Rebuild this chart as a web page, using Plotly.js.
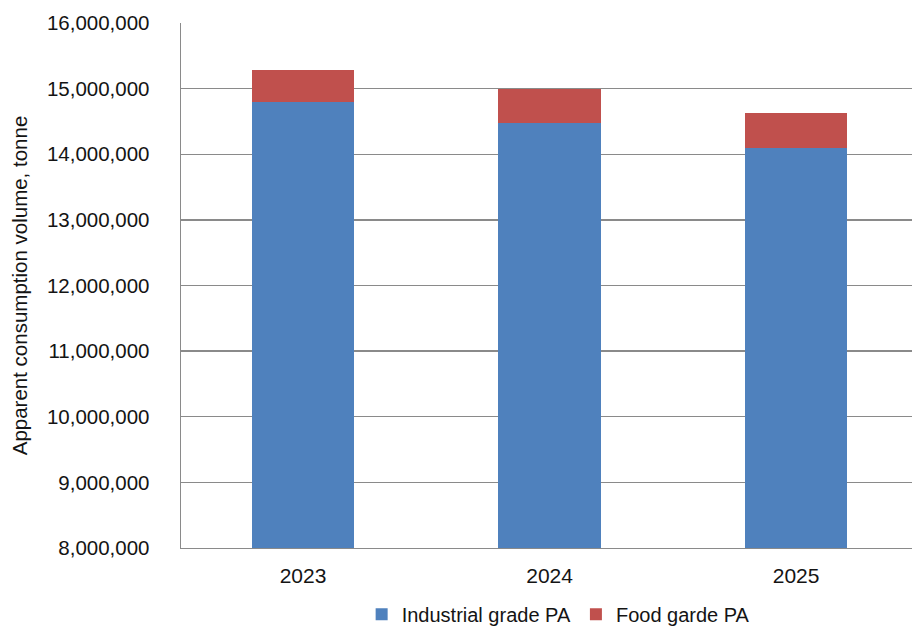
<!DOCTYPE html>
<html>
<head>
<meta charset="utf-8">
<script src="https://cdn.plot.ly/plotly-3.0.1.min.js"></script>
<style>
  html, body { margin: 0; padding: 0; background: #ffffff; }
  #chart { width: 912px; height: 628px; }
</style>
</head>
<body>
<div id="chart"></div>
<script>
// Apparent consumption volume by grade (tonne)
const years = ['2023', '2024', '2025'];
const industrialGrade = [14790000, 14480000, 14090000];
const foodGrade = [500000, 520000, 540000];
const seriesNames = ['Industrial grade PA', 'Food garde PA'];
const yTicks = [8000000, 9000000, 10000000, 11000000, 12000000, 13000000, 14000000, 15000000, 16000000];

const FONT = 'Liberation Sans, Arial, sans-serif';
const TEXT = '#141414';

const traces = [
  {
    type: 'bar',
    name: seriesNames[0],
    x: years,
    y: industrialGrade,
    marker: { color: '#4F81BD', line: { width: 0 } },
    hoverinfo: 'x+y+name'
  },
  {
    type: 'bar',
    name: seriesNames[1],
    x: years,
    y: foodGrade,
    marker: { color: '#C0504D', line: { width: 0 } },
    hoverinfo: 'x+y+name'
  }
];

const layout = {
  width: 912,
  height: 628,
  margin: { l: 181, r: 0, t: 23, b: 80 },
  paper_bgcolor: '#ffffff',
  plot_bgcolor: '#ffffff',
  barmode: 'stack',
  bargap: 0.585,
  font: { family: FONT, size: 20, color: TEXT },
  showlegend: true,
  legend: {
    orientation: 'h',
    x: 0.612,
    xref: 'container',
    xanchor: 'center',
    y: 0.022,
    yref: 'container',
    yanchor: 'middle',
    font: { family: FONT, size: 20, color: TEXT },
    itemwidth: 30,
    traceorder: 'normal'
  },
  xaxis: {
    type: 'category',
    range: [-0.495, 2.47],
    showgrid: false,
    zeroline: false,
    showline: true,
    linecolor: '#8a8a8a',
    linewidth: 1.4,
    ticks: '',
    ticklabelstandoff: 8,
    tickfont: { family: FONT, size: 21, color: TEXT }
  },
  yaxis: {
    range: [8000000, 16000000],
    tickvals: yTicks,
    tickformat: ',d',
    showgrid: true,
    gridcolor: '#8a8a8a',
    gridwidth: 1.4,
    zeroline: false,
    showline: true,
    linecolor: '#8a8a8a',
    linewidth: 1.4,
    ticks: '',
    ticklabelstandoff: 26,
    tickfont: { family: FONT, size: 20.5, color: TEXT },
    title: {
      text: 'Apparent consumption volume, tonne',
      font: { family: FONT, size: 20.5, color: TEXT },
      standoff: 13
    },
    automargin: false
  }
};

Plotly.newPlot('chart', traces, layout, { displayModeBar: false, staticPlot: true });
</script>
</body>
</html>
